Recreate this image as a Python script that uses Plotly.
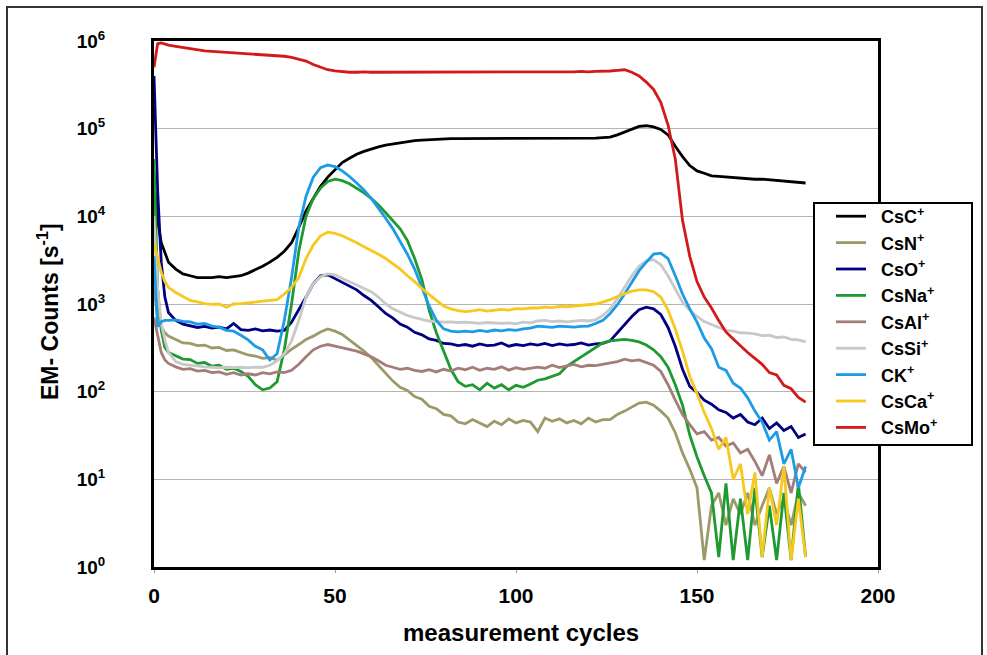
import plotly.graph_objects as go

cycles = [0, 1, 2, 3, 4] + list(range(6, 181, 2))

series_names = ["CsC<sup>+</sup>", "CsN<sup>+</sup>", "CsO<sup>+</sup>", "CsNa<sup>+</sup>",
                "CsAl<sup>+</sup>", "CsSi<sup>+</sup>", "CK<sup>+</sup>", "CsCa<sup>+</sup>",
                "CsMo<sup>+</sup>"]
series_colors = ["#000000", "#9d9a6a", "#000080", "#1e9a30", "#a57d78",
                 "#c8c8c8", "#1e9ae6", "#f7c81e", "#d21a1a"]

csc = [30000, 9000, 5000, 3800, 3000,
       2500, 2200, 2100, 2000, 2000, 2000, 2050, 2000, 2050, 2100,
       2250, 2450, 2700, 3000, 3400, 4000, 5000, 7500, 11500, 16000,
       22000, 28000, 34000, 41000, 46000, 51000, 55000, 59000, 62000, 65000,
       67000, 69000, 71000, 73000, 74000, 75000, 76000, 76000, 77000, 77000,
       77000, 77000, 78000, 77000, 78000, 78000, 77000, 78000, 78000, 77000,
       78000, 78000, 77000, 78000, 78000, 78000, 77000, 78000, 78000, 79000,
       80000, 85000, 92000, 100000, 106000, 108000, 105000, 98000, 85000, 63000,
       48000, 38000, 33000, 31000, 29000, 28500, 28000, 27500, 27000, 27000,
       26500, 26500, 26000, 25500, 25500, 25000, 24500, 24000]

csn = [1500, 700, 550, 470, 430,
       395, 360, 355, 335, 340, 315, 320, 295, 300, 280,
       262, 255, 240, 245, 228, 262, 305, 345, 395, 430,
       480, 520, 490, 450, 390, 340, 290, 245, 200, 160,
       132, 112, 103, 88, 82, 68, 64, 55, 53, 45,
       43, 48, 44, 40, 46, 42, 49, 44, 47, 45,
       35, 50, 46, 49, 44, 47, 43, 50, 45, 48,
       48, 55, 60, 66, 74, 76, 70, 60, 50, 34,
       20, 13, 8, 1.2, 5, 7, 3, 6, 4, 7,
       3, 5, 8, 4, 6, 3, 7, 5]

cso = [400000, 20000, 3000, 1200, 800,
       650, 590, 570, 540, 555, 530, 545, 520, 600, 510,
       500, 520, 495, 505, 490, 500, 620, 850, 1200, 1700,
       2100, 2150, 1950, 1800, 1600, 1450, 1250, 1100, 930, 780,
       690, 590, 545, 475, 445, 400, 385, 355, 350, 335,
       345, 330, 350, 335, 340, 360, 330, 345, 335, 350,
       340, 355, 335, 350, 340, 345, 360, 340, 350, 355,
       380, 470, 590, 720, 860, 920, 880, 760, 540, 330,
       180, 115, 98, 80, 72, 62, 58, 50, 55, 45,
       42, 50, 38, 44, 36, 40, 30, 33]

csna = [45000, 1500, 500, 320, 280,
        255, 235, 232, 210, 215, 195, 200, 180, 185, 170,
        150, 120, 105, 110, 130, 300, 1000, 4000, 10000, 16000,
        21000, 25000, 26500, 25500, 23500, 21000, 18500, 16000, 13500, 11000,
        9000, 7200, 5300, 3300, 1900, 850, 470, 290, 180, 130,
        115, 120, 105, 125, 110, 120, 105, 118, 112, 122,
        135, 140, 150, 160, 195, 220, 250, 280, 320, 360,
        380, 390, 395, 385, 370, 340, 300, 250, 190, 120,
        70, 32, 18, 11, 7, 1.3, 9, 1.2, 6, 1.2,
        8, 1.3, 5, 1.2, 7, 1.2, 9, 1.3]

csal = [700, 450, 280, 230, 210,
        192, 180, 183, 172, 175, 165, 168, 158, 165, 155,
        160, 155, 165, 160, 168, 165, 175, 205, 250, 300,
        330, 345, 330, 315, 305, 290, 270, 250, 225, 200,
        190, 180, 185, 175, 170, 178, 168, 180, 172, 185,
        178, 190, 175, 185, 180, 192, 176, 188, 180, 185,
        190, 185, 200, 188, 195, 205, 192, 200, 198, 205,
        210, 220, 235, 225, 230, 215, 200, 170, 120, 80,
        55, 42, 33, 35, 28, 30, 24, 26, 20, 22,
        16, 11, 19, 9, 14, 7, 15, 12]

cssi = [10000, 1500, 600, 390, 280,
        220, 205, 200, 195, 192, 190, 188, 190, 188, 190,
        188, 190, 190, 200, 225, 270, 380, 650, 1200, 1700,
        2050, 2200, 2150, 1950, 1800, 1650, 1500, 1380, 1200, 1000,
        880, 800, 740, 700, 670, 640, 630, 620, 625, 615,
        620, 610, 600, 615, 605, 600, 610, 595, 620, 610,
        640, 650, 630, 640, 625, 635, 650, 640, 660, 740,
        880, 1150, 1550, 2100, 2700, 3100, 3200, 2800, 2100, 1500,
        1050, 850, 720, 630, 580, 540, 500, 490, 470, 465,
        455, 435, 440, 415, 420, 395, 390, 370]

ck = [3500, 550, 630, 650, 650,
      660, 635, 625, 590, 600, 560, 545, 500, 490, 440,
      390, 330, 300, 230, 270, 650, 2000, 7500, 17000, 28000,
      36000, 38500, 37000, 33000, 28500, 24000, 20000, 16000, 12500, 9500,
      7200, 5200, 3700, 2500, 1500, 950, 650, 520, 490, 480,
      490, 480, 500, 485, 505, 495, 510, 500, 520, 530,
      560, 545, 540, 560, 550, 545, 555, 560, 600, 650,
      780, 980, 1300, 1800, 2400, 3000, 3700, 3800, 3300, 2100,
      1300, 880, 620, 410, 310, 190, 175, 125, 110, 85,
      60, 45, 28, 35, 15, 22, 8, 14]

csca = [5000, 3400, 2300, 1800, 1550,
        1350, 1220, 1100, 1060, 1010, 990, 1000, 920, 1000, 1010,
        1030, 1050, 1060, 1080, 1120, 1300, 1550, 2000, 3300, 4700,
        6000, 6600, 6400, 6000, 5500, 5000, 4500, 4100, 3700, 3300,
        2900, 2500, 2100, 1800, 1500, 1300, 1100, 950, 880, 840,
        820, 835, 860, 830, 855, 870, 850, 885, 880, 900,
        900, 920, 910, 940, 930, 950, 960, 980, 1000, 1050,
        1120, 1220, 1320, 1400, 1450, 1450, 1380, 1200, 850, 520,
        290, 150, 95, 58, 38, 22, 30, 10, 15, 4,
        12, 1.3, 8, 3, 14, 1.2, 6, 1.3]

csmo = [500000, 930000, 950000, 920000, 900000,
        870000, 840000, 810000, 790000, 770000, 760000, 750000, 740000, 735000, 730000,
        715000, 705000, 700000, 695000, 685000, 670000, 650000, 620000, 590000, 540000,
        500000, 470000, 455000, 445000, 440000, 440000, 445000, 440000, 440000, 445000,
        440000, 445000, 440000, 440000, 445000, 440000, 440000, 445000, 440000, 440000,
        445000, 440000, 440000, 445000, 440000, 440000, 445000, 440000, 445000, 440000,
        440000, 445000, 440000, 445000, 440000, 445000, 450000, 445000, 450000, 450000,
        455000, 462000, 470000, 440000, 400000, 340000, 280000, 200000, 110000, 45000,
        9000, 3500, 1800, 1200, 900, 650, 480, 400, 330, 280,
        240, 205, 165, 155, 118, 108, 86, 76]

all_series = [csc, csn, cso, csna, csal, cssi, ck, csca, csmo]
for s in all_series:
    assert len(s) == len(cycles), len(s)

x_ticks = [0, 50, 100, 150, 200]
y_ticks = [1, 10, 100, 1000, 10000, 100000, 1000000]
y_ticktext = ["<b>10<sup>%d</sup></b>" % i for i in range(7)]

FONT = "Arial, Liberation Sans, sans-serif"

fig = go.Figure()
for name, color, vals in zip(series_names, series_colors, all_series):
    fig.add_trace(go.Scatter(
        x=cycles, y=vals, mode="lines",
        name="\u00a0\u00a0<b>%s</b>" % name,
        line=dict(color=color, width=2.8),
    ))

# plot area in px: x 154..878, y 41..567
L, R, T, B = 154, 878, 41, 567
W, H = 987, 655
pw, ph = R - L, B - T

def px_x(p):
    return (p - L) / pw

def px_y(p):
    return (B - p) / ph

fig.update_layout(
    width=W, height=H,
    margin=dict(l=L, r=W - R, t=T, b=H - B, pad=0),
    paper_bgcolor="white", plot_bgcolor="white",
    font=dict(family=FONT, color="black"),
    showlegend=True,
    legend=dict(
        x=px_x(831), y=px_y(198), xanchor="left", yanchor="top",
        bgcolor="rgba(0,0,0,0)", borderwidth=0,
        font=dict(family=FONT, size=18, color="black"),
        itemwidth=30, tracegroupgap=0,
    ),
    xaxis=dict(
        range=[0, 200], tickvals=x_ticks,
        ticktext=["<b>%d</b>" % v for v in x_ticks],
        tickfont=dict(family=FONT, size=21, color="black"),
        showgrid=False, zeroline=False,
        showline=True, linecolor="black", linewidth=3, mirror=True,
        ticks="outside", ticklen=3, tickcolor="#999999", tickwidth=1,
        ticklabelstandoff=5,
    ),
    yaxis=dict(
        type="log", range=[0, 6], tickvals=y_ticks, ticktext=y_ticktext,
        tickfont=dict(family=FONT, size=19, color="black"),
        showgrid=True, gridcolor="#b4b4b4", gridwidth=1,
        zeroline=False,
        showline=True, linecolor="black", linewidth=3, mirror=True,
        ticks="", ticklabelstandoff=42,
    ),
    annotations=[
        dict(text="<b>EM- Counts [s<sup>-1</sup>]</b>", xref="paper", yref="paper",
             x=px_x(48), y=px_y(312), textangle=-90, showarrow=False,
             xanchor="center", yanchor="middle",
             font=dict(family=FONT, size=23, color="black")),
        dict(text="<b>measurement cycles</b>", xref="paper", yref="paper",
             x=px_x(521), y=px_y(632), showarrow=False,
             xanchor="center", yanchor="middle",
             font=dict(family=FONT, size=24, color="black")),
    ],
    shapes=[
        dict(type="rect", xref="paper", yref="paper",
             x0=px_x(7), x1=px_x(982), y0=px_y(662), y1=px_y(7),
             line=dict(color="#333333", width=2), fillcolor="rgba(0,0,0,0)",
             layer="below"),
        dict(type="rect", xref="paper", yref="paper",
             x0=px_x(814), x1=px_x(972), y0=px_y(445), y1=px_y(203),
             line=dict(color="black", width=2), fillcolor="white",
             layer="above"),
    ],
)

fig.write_html("out.html")
